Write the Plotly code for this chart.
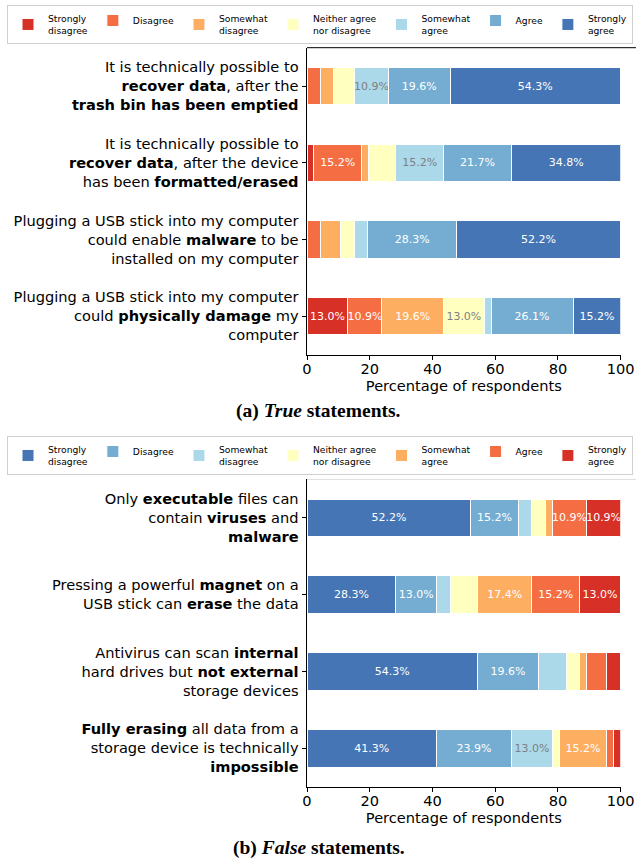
import plotly.graph_objects as go

W, H = 636, 859

# ---------------- data ----------------
level_labels = ["Strongly<br>disagree", "Disagree", "Somewhat<br>disagree",
                "Neither agree<br>nor disagree", "Somewhat<br>agree", "Agree",
                "Strongly<br>agree"]

true_statements = [
    "It is technically possible to<br><b>recover data</b>, after the<br><b>trash bin has been emptied</b>",
    "It is technically possible to<br><b>recover data</b>, after the device<br>has been <b>formatted/erased</b>",
    "Plugging a USB stick into my computer<br>could enable <b>malware</b> to be<br>installed on my computer",
    "Plugging a USB stick into my computer<br>could <b>physically damage</b> my<br>computer",
]
false_statements = [
    "Only <b>executable</b> files can<br>contain <b>viruses</b> and<br><b>malware</b>",
    "Pressing a powerful <b>magnet</b> on a<br>USB stick can <b>erase</b> the data",
    "Antivirus can scan <b>internal</b><br>hard drives but <b>not external</b><br>storage devices",
    "<b>Fully erasing</b> all data from a<br>storage device is technically<br><b>impossible</b>",
]

# percentages, (a) true statements
true_strongly_disagree = [0.0, 2.2, 0.0, 13.0]
true_disagree = [4.3, 15.2, 4.3, 10.9]
true_somewhat_disagree = [4.3, 2.2, 6.5, 19.6]
true_neither = [6.5, 8.7, 4.3, 13.0]
true_somewhat_agree = [10.9, 15.2, 4.3, 2.2]
true_agree = [19.6, 21.7, 28.3, 26.1]
true_strongly_agree = [54.3, 34.8, 52.2, 15.2]

# percentages, (b) false statements
false_strongly_disagree = [52.2, 28.3, 54.3, 41.3]
false_disagree = [15.2, 13.0, 19.6, 23.9]
false_somewhat_disagree = [4.3, 4.3, 8.7, 13.0]
false_neither = [4.3, 8.7, 4.3, 2.2]
false_somewhat_agree = [2.2, 17.4, 2.2, 15.2]
false_agree = [10.9, 15.2, 6.5, 2.2]
false_strongly_agree = [10.9, 13.0, 4.3, 2.2]

x_ticks = [0, 20, 40, 60, 80, 100]

# ---------------- styles ----------------
red_to_blue = ["#d73027", "#f46d43", "#fdae61", "#ffffbf", "#abd9e9", "#74add1", "#4575b4"]
txt_red_to_blue = ["white", "white", "white", "#808080", "#808080", "white", "white"]

true_series = [true_strongly_disagree, true_disagree, true_somewhat_disagree,
               true_neither, true_somewhat_agree, true_agree, true_strongly_agree]
false_series = [false_strongly_disagree, false_disagree, false_somewhat_disagree,
                false_neither, false_somewhat_agree, false_agree, false_strongly_agree]

FONT = "DejaVu Sans"
fig = go.Figure()


def add_group(series, cats, colors, tcolors, xa, ya, leg):
    for lab, vals, col, tc in zip(level_labels, series, colors, tcolors):
        fig.add_trace(go.Bar(
            x=vals, y=cats, orientation="h", name=lab,
            marker=dict(color=col, line=dict(color="white", width=1)),
            text=[f"{v:.1f}%" if v >= 10 else "" for v in vals],
            textposition="inside", insidetextanchor="middle", textangle=0,
            constraintext="none", cliponaxis=False,
            textfont=dict(family=FONT, size=11, color=tc),
            xaxis=xa, yaxis=ya, legend=leg, hoverinfo="skip",
        ))


add_group(true_series, true_statements, red_to_blue, txt_red_to_blue, "x", "y", "legend")
add_group(false_series, false_statements, red_to_blue[::-1], txt_red_to_blue[::-1], "x2", "y2", "legend2")

xdom = [307 / W, 620.7 / W]
ydom1 = [1 - 354.5 / H, 1 - 47.7 / H]
ydom2 = [1 - 786.7 / H, 1 - 479.4 / H]

axis_common = dict(showline=True, linecolor="black", linewidth=1, ticks="outside",
                   ticklen=4.5, tickcolor="black", tickwidth=1, showgrid=False,
                   zeroline=False, automargin=False)
xcommon = dict(axis_common, range=[0, 100.001], tickvals=x_ticks, ticklabelstandoff=-4,
               tickfont=dict(family=FONT, size=14.6, color="black"),
               title=dict(text="Percentage of respondents", standoff=1,
                          font=dict(family=FONT, size=14.6, color="black")))
ycommon = dict(axis_common, type="category", range=[3.5, -0.5],
               tickfont=dict(family=FONT, size=14.6, color="black"))

legend_common = dict(orientation="h", x=7 / W, xanchor="left", yanchor="middle",
                     font=dict(family=FONT, size=9.2, color="black"),
                     bordercolor="#d0d0d0", borderwidth=1, bgcolor="white",
                     itemwidth=30, traceorder="normal")

fig.update_layout(
    template="none",
    width=W, height=H, margin=dict(l=0, r=0, t=0, b=0, autoexpand=False),
    barmode="stack", bargap=0.512,
    paper_bgcolor="white", plot_bgcolor="white",
    font=dict(family=FONT, color="black"),
    xaxis=dict(xcommon, domain=xdom, anchor="y"),
    yaxis=dict(ycommon, domain=ydom1, anchor="x", categoryarray=true_statements),
    xaxis2=dict(xcommon, domain=xdom, anchor="y2"),
    yaxis2=dict(ycommon, domain=ydom2, anchor="x2", categoryarray=false_statements),
    legend=dict(legend_common, y=1 - 24.5 / H),
    legend2=dict(legend_common, y=1 - 455.5 / H),
    shapes=[
        dict(type="line", xref="paper", yref="paper", x0=307 / W, x1=1,
             y0=1 - 47.7 / H, y1=1 - 47.7 / H, line=dict(color="black", width=1)),
        dict(type="line", xref="paper", yref="paper", x0=307 / W, x1=1,
             y0=1 - 479.4 / H, y1=1 - 479.4 / H, line=dict(color="#dddddd", width=1)),
    ],
    annotations=[
        dict(text="<b>(a) <i>True</i> statements.</b>", x=318.5 / W, y=1 - 411 / H,
             xref="paper", yref="paper", showarrow=False, xanchor="center", yanchor="middle",
             font=dict(family="Liberation Serif", size=19.5, color="black")),
        dict(text="<b>(b) <i>False</i> statements.</b>", x=318.5 / W, y=1 - 848 / H,
             xref="paper", yref="paper", showarrow=False, xanchor="center", yanchor="middle",
             font=dict(family="Liberation Serif", size=19.5, color="black")),
    ],
)

fig.write_html("out.html", config={"displayModeBar": False},
               post_script="document.body.style.margin='0px';")
